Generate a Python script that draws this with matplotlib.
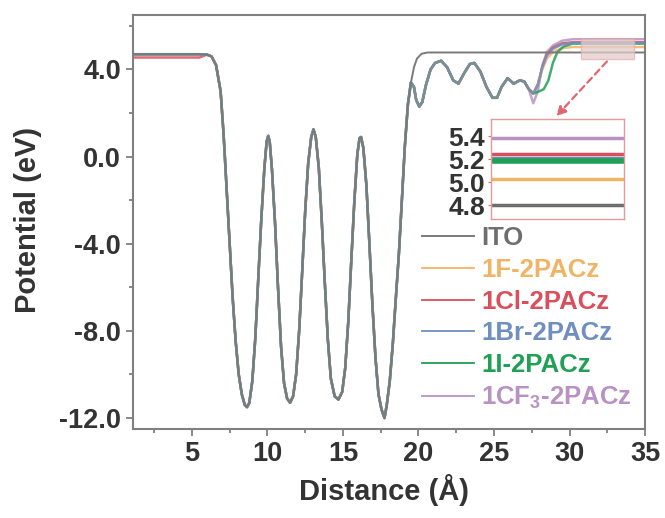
import matplotlib
matplotlib.use('Agg')
import matplotlib.pyplot as plt
from matplotlib.patches import Rectangle

plt.rcParams['font.family'] = ['Liberation Sans', 'DejaVu Sans']
plt.rcParams['font.weight'] = 'bold'
plt.rcParams['mathtext.fontset'] = 'custom'
plt.rcParams['mathtext.rm'] = 'Liberation Sans:bold'
plt.rcParams['mathtext.default'] = 'rm'

# shared part of the potential profile
x_common = [1.1, 5.5, 6.0, 6.3, 6.6, 6.9, 7.1, 7.3, 7.5, 7.7, 7.9, 8.1, 8.3, 8.5, 8.65, 8.8,
            9.0, 9.2, 9.4, 9.6, 9.8, 9.95, 10.05, 10.15, 10.3, 10.5, 10.7, 10.9, 11.1, 11.3,
            11.5, 11.7, 11.9, 12.1, 12.3, 12.5, 12.7, 12.9, 13.05, 13.2, 13.4, 13.6, 13.8,
            14.0, 14.2, 14.45, 14.7, 14.95, 15.15, 15.35, 15.55, 15.75, 15.95, 16.1, 16.2,
            16.35, 16.55, 16.75, 16.95, 17.15, 17.35, 17.55, 17.75, 17.9, 18.1, 18.3, 18.5,
            18.7, 18.9, 19.1, 19.3, 19.5]
y_common = [4.7, 4.7, 4.68, 4.6, 4.2, 3.0, 1.0, -1.5, -4.0, -6.5, -8.5, -10.0, -10.9, -11.4, -11.5, -11.3,
            -10.3, -8.3, -5.5, -2.8, -0.5, 0.7, 0.95, 0.7, -0.6, -3.0, -6.0, -8.7, -10.4, -11.1,
            -11.3, -11.0, -10.0, -8.0, -5.3, -2.5, -0.3, 0.9, 1.25, 0.9, -0.5, -3.0, -5.8,
            -8.4, -10.2, -11.0, -11.15, -10.8, -9.7, -7.6, -4.8, -2.1, 0.1, 0.85, 0.9,
            0.4, -1.3, -4.0, -6.8, -9.2, -10.9, -11.6, -12.0, -11.4, -10.3, -8.6, -6.5,
            -4.5, -2.0, 0.5, 2.4, 3.4]

# ITO tail
x_ito_tail = [19.7, 19.9, 20.2, 20.6, 35.0]
y_ito_tail = [4.1, 4.5, 4.72, 4.78, 4.78]

# SAM tail (common until the last dip)
x_sam_tail = [19.7, 19.85, 20.05, 20.25, 20.5, 20.8, 21.1, 21.5, 21.9, 22.3, 22.65, 23.0, 23.4,
              23.7, 24.1, 24.5, 24.9, 25.2, 25.5, 25.9, 26.3, 26.7, 27.0, 27.3, 27.6]
y_sam_tail = [3.2, 2.6, 2.3, 2.5, 3.3, 4.0, 4.3, 4.4, 4.1, 3.5, 3.35, 3.8, 4.25,
              4.3, 3.9, 3.2, 2.7, 2.7, 3.2, 3.6, 3.35, 3.5, 3.45, 3.1, 2.9]

# end of each SAM curve after the last dip
x_rise = [27.9, 28.2, 28.5, 28.9, 29.5, 30.2, 35.0]
x_rise_i = [28.0, 28.3, 28.6, 28.9, 29.2, 29.6, 30.2, 35.0]
y_rise_f = [3.3, 4.0, 4.5, 4.8, 4.98, 5.03, 5.03]
y_rise_cl = [3.3, 4.1, 4.7, 5.0, 5.2, 5.25, 5.25]
y_rise_br = [3.3, 4.1, 4.65, 4.95, 5.15, 5.21, 5.21]
y_rise_i = [3.0, 3.1, 3.5, 4.3, 4.8, 5.05, 5.19, 5.19]
y_rise_cf3 = [3.0, 4.2, 4.8, 5.1, 5.32, 5.39, 5.39]

labels = ['ITO', '1F-2PACz', '1Cl-2PACz', '1Br-2PACz', '1I-2PACz', '1CF$_3$-2PACz']
colors = ['#6e6e6e', '#f0b466', '#d9505c', '#6f8fbf', '#1fa055', '#b992c4']
plateau = [4.80, 5.03, 5.25, 5.21, 5.19, 5.39]

fig = plt.figure(figsize=(6.65, 5.18), dpi=100)
ax = fig.add_axes([0.2, 0.172, 0.77, 0.799])

# red curve sits a bit lower on the left plateau
y_left_cl = [4.55, 4.55] + y_common[2:]

curves = {
    5: (x_common + x_sam_tail[:-1] + [27.6] + x_rise,
        y_common + y_sam_tail[:-1] + [2.45] + y_rise_cf3),
    2: (x_common + x_sam_tail + x_rise, y_left_cl + y_sam_tail + y_rise_cl),
    1: (x_common + x_sam_tail + x_rise, y_common + y_sam_tail + y_rise_f),
    4: (x_common + x_sam_tail + x_rise_i, y_common + y_sam_tail + y_rise_i),
    3: (x_common + x_sam_tail + x_rise, y_common + y_sam_tail + y_rise_br),
}
for i, (xs, ys) in curves.items():
    ax.plot(xs, ys, color=colors[i], lw=1.8, alpha=0.85)
ax.plot(x_common + x_ito_tail, y_common + y_ito_tail, color='#7a7a7a', lw=1.4, zorder=3)
# the SAM wiggles look greyish where all curves overlap
ax.plot(x_sam_tail, y_sam_tail, color='#8a8a8a', lw=1.2, alpha=0.7, zorder=3)

# highlighted region + arrow to the inset
ax.add_patch(Rectangle((30.75, 4.5), 3.5, 0.92, facecolor='#e2cdcd', edgecolor='#e7b0b0',
                       alpha=0.75, lw=1, zorder=4))
ax.annotate('', xy=(29.0, 1.76), xytext=(32.6, 4.46),
            arrowprops=dict(arrowstyle='-|>', linestyle=(0, (3, 2)), color='#e06670',
                            lw=1.6, mutation_scale=14))

ax.set_xlim(1.1, 35)
ax.set_ylim(-12.5, 6.5)
ax.set_xticks([5, 10, 15, 20, 25, 30, 35])
ax.set_xticks([2.5, 7.5, 12.5, 17.5, 22.5, 27.5, 32.5], minor=True)
ax.set_yticks([4, 0, -4, -8, -12])
ax.set_yticklabels(['4.0', '0.0', '-4.0', '-8.0', '-12.0'])
ax.set_yticks([6, 2, -2, -6, -10], minor=True)
for s in ax.spines.values():
    s.set_color('#808080')
    s.set_linewidth(1.5)
ax.tick_params(which='both', direction='out', color='#808080', width=1.3,
               labelsize=19.5, labelcolor='#333333')
ax.tick_params(which='major', length=5)
ax.tick_params(which='minor', length=3)
ax.set_xlabel('Distance (Å)', fontsize=21, fontweight='bold', color='#333333')
ax.set_ylabel('Potential (eV)', fontsize=21, fontweight='bold', color='#333333')
ax.xaxis.set_label_coords(0.49, -0.11)
ax.yaxis.set_label_coords(-0.178, 0.505)

handles = [plt.Line2D([], [], color=c, lw=1.3) for c in colors]
leg = ax.legend(handles, labels, loc='upper left', bbox_to_anchor=(0.565, 0.49),
                frameon=False, fontsize=18.5, handlelength=2.0, handletextpad=0.3,
                labelspacing=0.3, borderaxespad=0, borderpad=0)
for t, c in zip(leg.get_texts(), colors):
    t.set_color(c)

# inset with the right-hand plateaus
ins = fig.add_axes([0.738, 0.577, 0.2, 0.193])
order = [0, 1, 3, 4, 2, 5]
for i in order:
    lw = 4 if i == 4 else 2.5
    ins.plot([0, 1], [plateau[i], plateau[i]], color=colors[i], lw=lw)
ins.set_xlim(0, 1)
ins.set_ylim(4.68, 5.55)
ins.set_xticks([])
ins.set_yticks([4.8, 5.0, 5.2, 5.4])
ins.set_yticklabels(['4.8', '5.0', '5.2', '5.4'])
for s in ins.spines.values():
    s.set_color('#e89a9a')
    s.set_linewidth(1)
ins.tick_params(axis='y', direction='out', length=2, color='#e06670',
                labelsize=19, labelcolor='#333333', pad=2)

fig.savefig('out.png', dpi=100)
